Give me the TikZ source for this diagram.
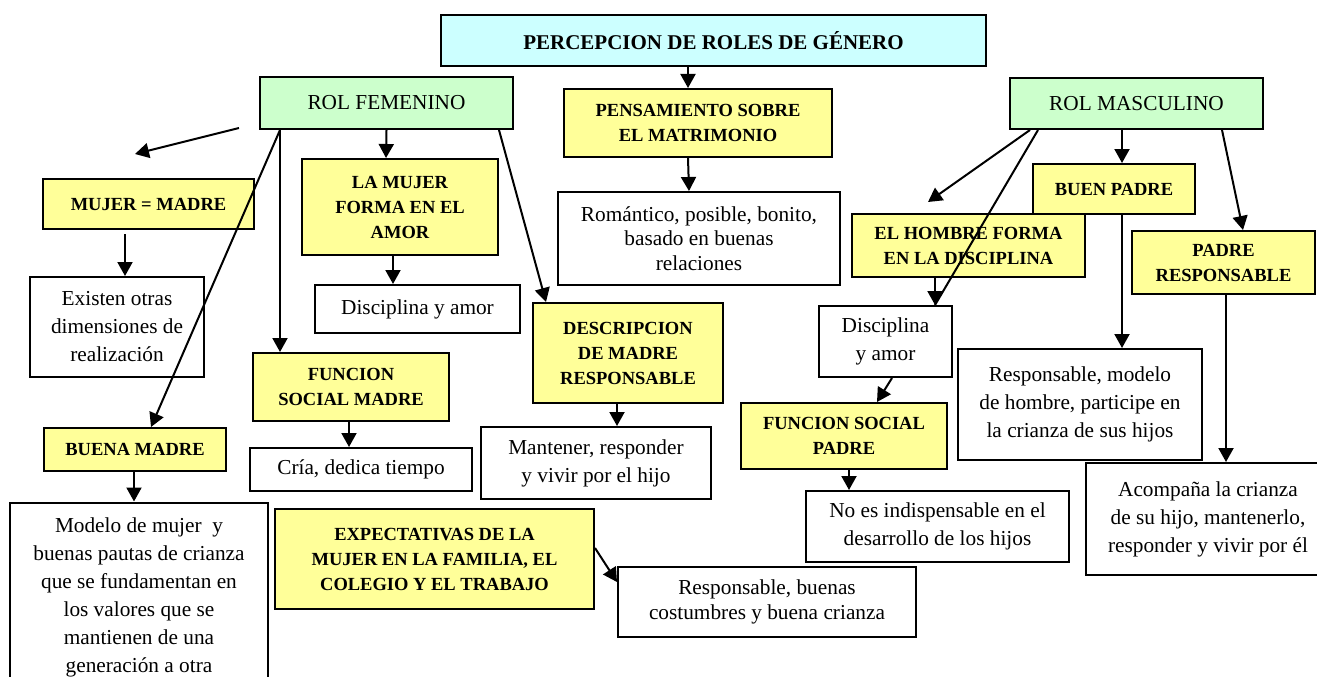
\documentclass[tikz,border=0pt]{standalone}
\usepackage{fontspec}
\setmainfont{Liberation Serif}
\usetikzlibrary{arrows.meta,positioning}
\definecolor{tituloazul}{HTML}{CCFFFF}
\definecolor{rolverde}{HTML}{CCFFCC}
\definecolor{temaamarillo}{HTML}{FFFF99}
\tikzset{
  cell/.style={draw, line width=2pt, align=center, inner sep=0pt},
  sz/.style 2 args={minimum width=#1pt, minimum height=#2pt},
  titulo/.style={cell, fill=tituloazul, font=\fontsize{21}{25}\selectfont\bfseries},
  rol/.style={cell, fill=rolverde, font=\fontsize{21.3}{28}\selectfont},
  tema/.style={cell, fill=temaamarillo, font=\fontsize{18.5}{25}\selectfont\bfseries},
  desc/.style={cell, fill=white, font=\fontsize{21.3}{28}\selectfont},
  desct/.style={desc, font=\fontsize{21.3}{24.5}\selectfont},
  arrow/.style={-{Triangle[length=14pt,width=15pt]}, line width=2pt},
  link/.style={line width=2pt}
}
\begin{document}
\begin{tikzpicture}[x=1pt, y=-1pt]
    \useasboundingbox (0,0) rectangle (1317,677);
    % title and the two roles
    \node[titulo, sz={545}{51}] (title) at (713.5,40.5) {PERCEPCION DE ROLES DE GÉNERO};
    \node[rol, sz={253}{52}] (rolfem) at (386.5,103) {ROL FEMENINO};
    \node[rol, sz={253}{51}] (rolmas) at (1136.5,103.5) {ROL MASCULINO};

    % centre column
    \node[tema, sz={268}{68}] (pensam) at (698,123) {PENSAMIENTO SOBRE\\ EL MATRIMONIO};
    \node[desct, sz={282}{93}] (romant) at (699,238.5) {Romántico, posible, bonito,\\ basado en buenas\\ relaciones};

    % feminine side
    \node[tema, sz={211}{50}] (mujmad) at (148.5,204) {MUJER = MADRE};
    \node[desc, sz={174}{100}] (existen) at (117,327) {Existen otras\\ dimensiones de\\ realización};
    \node[tema, sz={196}{96}] (mujamor) at (400,207) {LA MUJER\\ FORMA EN EL\\ AMOR};
    \node[desc, sz={205}{48}] (discfem) at (417.5,309) {Disciplina y amor};
    \node[tema, sz={190}{100}] (descr) at (628,353) {DESCRIPCION\\ DE MADRE\\ RESPONSABLE};
    \node[desc, sz={230}{72}] (mantener) at (596,463) {Mantener, responder\\ y vivir por el hijo};
    \node[tema, sz={196}{68}] (funmad) at (351,387) {FUNCION\\ SOCIAL MADRE};
    \node[desc, sz={222}{43}] (cria) at (361,469.5) {Cría, dedica tiempo};
    \node[tema, sz={182}{43}] (buenamad) at (135,449.5) {BUENA MADRE};
    \node[desc, sz={258}{190}] (modelo) at (139,597.5) {Modelo de mujer~ y\\ buenas pautas de crianza\\ que se fundamentan en\\ los valores que se\\ mantienen de una\\ generación a otra};
    \node[tema, sz={319}{100}] (expect) at (434.5,559) {EXPECTATIVAS DE LA\\ MUJER EN LA FAMILIA, EL\\ COLEGIO Y EL TRABAJO};
    \node[desct, sz={298}{70}] (respbuen) at (767,602) {Responsable, buenas\\ costumbres y buena crianza};

    % masculine side
    \node[tema, sz={233}{63}] (hombre) at (968.5,245.5) {EL HOMBRE FORMA\\ EN LA DISCIPLINA};
    \node[tema, sz={162}{50}] (buenpad) at (1114,189) {BUEN PADRE};
    \node[tema, sz={183}{63}] (padresp) at (1223.5,262.5) {PADRE\\ RESPONSABLE};
    \node[desc, sz={133}{71}] (discmas) at (885.5,341.5) {Disciplina\\ y amor};
    \node[desc, sz={244}{111}] (respmod) at (1080,404.5) {Responsable, modelo\\ de hombre, participe en\\ la crianza de sus hijos};
    \node[tema, sz={206}{66}] (funpad) at (844,436) {FUNCION SOCIAL\\ PADRE};
    \node[desc, sz={263}{71}] (noes) at (937.5,526.5) {No es indispensable en el\\ desarrollo de los hijos};
    \node[desc, sz={244}{112}] (acomp) at (1208,519) {Acompaña la crianza\\ de su hijo, mantenerlo,\\ responder y vivir por él};

    % loose arrow ends
    \coordinate (femsuelta1) at (239,128);
    \coordinate (femsuelta2) at (135,154);
    \coordinate (massuelta) at (928,202);

    \draw[arrow] ([xshift=-25.5pt]title.south) -- ([xshift=-10pt]pensam.north);
    \draw[arrow] ([xshift=-10pt]pensam.south) -- ([xshift=-10pt]romant.north);

    \draw[arrow] (femsuelta1) -- (femsuelta2);
    \draw[arrow] ([xshift=21pt]rolfem.south west) -- ([xshift=16pt]buenamad.north);
    \draw[arrow] ([xshift=21pt]rolfem.south west) -- ([xshift=28pt]funmad.north west);
    \draw[arrow] (rolfem.south) -- ([xshift=-14pt]mujamor.north);
    \draw[arrow] ([xshift=-15pt]rolfem.south east) -- ([xshift=14pt]descr.north west);
    \draw[arrow] ([xshift=-23.5pt, yshift=-4pt]mujmad.south) -- ([xshift=8pt]existen.north);
    \draw[arrow] ([xshift=-7pt]mujamor.south) -- ([xshift=-24.5pt]discfem.north);
    \draw[arrow] ([xshift=-11pt]descr.south) -- ([xshift=21pt]mantener.north);
    \draw[arrow] ([xshift=-2pt]funmad.south) -- ([xshift=-12pt]cria.north);
    \draw[arrow] ([xshift=-1pt]buenamad.south) -- ([xshift=-5pt]modelo.north);
    \draw[arrow] ([yshift=11pt]expect.east) -- ([yshift=20pt]respbuen.west);

    \draw[arrow] ([xshift=21pt]rolmas.south west) -- (massuelta);
    \draw[link] ([xshift=29pt]rolmas.south west) -- ([xshift=49.5pt]discmas.north);
    \draw[arrow] ([xshift=-33.5pt]hombre.south) -- ([xshift=49.5pt]discmas.north);
    \draw[arrow] ([xshift=-14.5pt]rolmas.south) -- ([xshift=8pt]buenpad.north);
    \draw[arrow] ([xshift=8pt]buenpad.south) -- ([xshift=42pt]respmod.north);
    \draw[arrow] ([xshift=-42pt]rolmas.south east) -- ([xshift=19.5pt]padresp.north);
    \draw[arrow] ([xshift=2.5pt]padresp.south) -- ([xshift=18pt]acomp.north);
    \draw[arrow] ([xshift=6.5pt]discmas.south) -- ([xshift=33pt]funpad.north);
    \draw[arrow] ([xshift=5pt]funpad.south) -- ([xshift=-88.5pt]noes.north);
  \end{tikzpicture}
\end{document}
